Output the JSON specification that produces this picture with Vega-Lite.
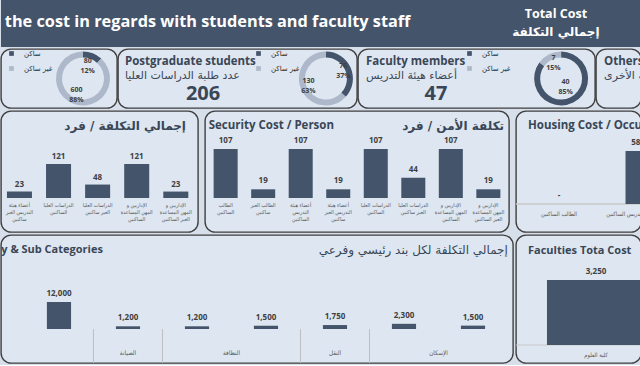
{
  "$schema": "https://vega.github.io/schema/vega-lite/v6.json",
  "padding": 0,
  "background": "#d7dfea",
  "spacing": 1,
  "resolve": {"scale": {"color": "independent"}, "legend": {"color": "independent"}},
  "config": {
    "view": {"stroke": "#3f3f3f", "strokeWidth": 1.4, "cornerRadius": 10, "fill": "#dde6f1"},
    "axis": {"grid": false}
  },
  "vconcat": [
    {
      "width": 640,
      "height": 47,
      "view": {"fill": "#44546a", "stroke": null, "cornerRadius": 0},
      "layer": [
        {
          "data": {"values": [{"t": "the cost in regards with students and faculty staff"}]},
          "mark": {"type": "text", "align": "left", "baseline": "middle", "font": "Open Sans", "fontSize": 16.3, "fontWeight": "bold", "color": "#ffffff"},
          "encoding": {
            "text": {"field": "t"},
            "x": {"datum": 0.006, "type": "quantitative", "scale": {"domain": [0, 1]}, "axis": null},
            "y": {"datum": 0.47, "type": "quantitative", "scale": {"domain": [0, 1], "reverse": true}, "axis": null}
          }
        },
        {
          "data": {"values": [{"t": "Total Cost"}]},
          "mark": {"type": "text", "align": "center", "baseline": "middle", "font": "Open Sans", "fontSize": 12.5, "fontWeight": "bold", "color": "#ffffff"},
          "encoding": {
            "text": {"field": "t"},
            "x": {"datum": 0.867, "type": "quantitative", "scale": {"domain": [0, 1]}, "axis": null},
            "y": {"datum": 0.3, "type": "quantitative", "scale": {"domain": [0, 1], "reverse": true}, "axis": null}
          }
        },
        {
          "data": {"values": [{"t": "إجمالي التكلفة"}]},
          "mark": {"type": "text", "align": "center", "baseline": "middle", "font": "DejaVu Sans", "fontSize": 12, "fontWeight": "bold", "color": "#ffffff"},
          "encoding": {
            "text": {"field": "t"},
            "x": {"datum": 0.867, "type": "quantitative", "scale": {"domain": [0, 1]}, "axis": null},
            "y": {"datum": 0.68, "type": "quantitative", "scale": {"domain": [0, 1], "reverse": true}, "axis": null}
          }
        }
      ]
    },
    {
      "resolve": {"scale": {"color": "independent"}, "legend": {"color": "independent"}},
      "hconcat": [
        {
          "width": 116,
          "height": 59,
          "data": {"values": [{"status": "ساكن", "n": 80, "pct": "12%"}, {"status": "غير ساكن", "n": 600, "pct": "88%"}]},
          "layer": [
            {
              "mark": {"type": "arc", "outerRadius": 27, "innerRadius": 21},
              "encoding": {
                "theta": {"field": "n", "type": "quantitative", "stack": true},
                "order": {"field": "status", "sort": "ascending"},
                "color": {"field": "status", "type": "nominal", "scale": {"domain": ["ساكن", "غير ساكن"], "range": ["#44546a", "#adb9ca"]},
                  "legend": {"orient": "none", "legendX": 7, "legendY": 1, "title": null, "symbolType": "square", "symbolSize": 22, "symbolStrokeWidth": 0, "labelFont": "DejaVu Sans", "labelFontSize": 7, "labelColor": "#262626", "rowPadding": 7, "labelOffset": 9, "padding": 0}},
                "x": {"datum": 0.707, "type": "quantitative", "scale": {"domain": [0, 1]}, "axis": null}
              }
            },
            {
              "mark": {"type": "text", "radius": {"expr": "datum.status === 'ساكن' ? 13 : 18"}, "dy": -5, "font": "Open Sans", "fontSize": 7, "fontWeight": "bold", "color": "#404040"},
              "encoding": {
                "theta": {"field": "n", "type": "quantitative", "stack": true},
                "order": {"field": "status", "sort": "ascending"},
                "detail": {"field": "status"},
                "text": {"field": "n"},
                "x": {"datum": 0.707, "type": "quantitative", "scale": {"domain": [0, 1]}, "axis": null}
              }
            },
            {
              "mark": {"type": "text", "radius": {"expr": "datum.status === 'ساكن' ? 13 : 18"}, "dy": 5, "font": "Open Sans", "fontSize": 7, "fontWeight": "bold", "color": "#404040"},
              "encoding": {
                "theta": {"field": "n", "type": "quantitative", "stack": true},
                "order": {"field": "status", "sort": "ascending"},
                "detail": {"field": "status"},
                "text": {"field": "pct"},
                "x": {"datum": 0.707, "type": "quantitative", "scale": {"domain": [0, 1]}, "axis": null}
              }
            }
          ]
        },
        {
          "width": 239,
          "height": 59,
          "layer": [
            {
              "data": {"values": [{"status": "ساكن", "n": 76, "pct": "37%"}, {"status": "غير ساكن", "n": 130, "pct": "63%"}]},
              "layer": [
                {
                  "mark": {"type": "arc", "outerRadius": 27, "innerRadius": 21},
                  "encoding": {
                    "theta": {"field": "n", "type": "quantitative", "stack": true},
                    "order": {"field": "status", "sort": "ascending"},
                    "color": {"field": "status", "type": "nominal", "scale": {"domain": ["ساكن", "غير ساكن"], "range": ["#44546a", "#adb9ca"]},
                      "legend": {"orient": "none", "legendX": 137, "legendY": 1, "title": null, "symbolType": "square", "symbolSize": 22, "symbolStrokeWidth": 0, "labelFont": "DejaVu Sans", "labelFontSize": 7, "labelColor": "#262626", "rowPadding": 7, "labelOffset": 9, "padding": 0}},
                    "x": {"datum": 0.87, "type": "quantitative", "scale": {"domain": [0, 1]}, "axis": null}
                  }
                },
                {
                  "mark": {"type": "text", "radius": 19, "dy": -5, "font": "Open Sans", "fontSize": 7, "fontWeight": "bold", "color": "#404040"},
                  "encoding": {
                    "theta": {"field": "n", "type": "quantitative", "stack": true},
                    "order": {"field": "status", "sort": "ascending"},
                    "detail": {"field": "status"},
                    "text": {"field": "n"},
                    "x": {"datum": 0.87, "type": "quantitative", "scale": {"domain": [0, 1]}, "axis": null}
                  }
                },
                {
                  "mark": {"type": "text", "radius": 19, "dy": 5, "font": "Open Sans", "fontSize": 7, "fontWeight": "bold", "color": "#404040"},
                  "encoding": {
                    "theta": {"field": "n", "type": "quantitative", "stack": true},
                    "order": {"field": "status", "sort": "ascending"},
                    "detail": {"field": "status"},
                    "text": {"field": "pct"},
                    "x": {"datum": 0.87, "type": "quantitative", "scale": {"domain": [0, 1]}, "axis": null}
                  }
                }
              ]
            },
            {
              "data": {"values": [{"t": "Postgraduate students"}]},
              "mark": {"type": "text", "align": "left", "baseline": "middle", "font": "Open Sans", "fontSize": 11.5, "fontWeight": "bold", "color": "#3a4656"},
              "encoding": {
                "text": {"field": "t"},
                "x": {"datum": 0.029, "type": "quantitative", "scale": {"domain": [0, 1]}, "axis": null},
                "y": {"datum": 0.22, "type": "quantitative", "scale": {"domain": [0, 1], "reverse": true}, "axis": null}
              }
            },
            {
              "data": {"values": [{"t": "عدد طلبة الدراسات العليا"}]},
              "mark": {"type": "text", "align": "left", "baseline": "middle", "font": "DejaVu Sans", "fontSize": 11, "color": "#3a4656"},
              "encoding": {
                "text": {"field": "t"},
                "x": {"datum": 0.029, "type": "quantitative", "scale": {"domain": [0, 1]}, "axis": null},
                "y": {"datum": 0.46, "type": "quantitative", "scale": {"domain": [0, 1], "reverse": true}, "axis": null}
              }
            },
            {
              "data": {"values": [{"t": "206"}]},
              "mark": {"type": "text", "align": "center", "baseline": "middle", "font": "Open Sans", "fontSize": 20, "fontWeight": "bold", "color": "#3a4656"},
              "encoding": {
                "text": {"field": "t"},
                "x": {"datum": 0.356, "type": "quantitative", "scale": {"domain": [0, 1]}, "axis": null},
                "y": {"datum": 0.76, "type": "quantitative", "scale": {"domain": [0, 1], "reverse": true}, "axis": null}
              }
            }
          ]
        },
        {
          "width": 237,
          "height": 59,
          "layer": [
            {
              "data": {"values": [{"status": "ساكن", "n": 40, "pct": "85%"}, {"status": "غير ساكن", "n": 7, "pct": "15%"}]},
              "layer": [
                {
                  "mark": {"type": "arc", "outerRadius": 27, "innerRadius": 21},
                  "encoding": {
                    "theta": {"field": "n", "type": "quantitative", "stack": true},
                    "order": {"field": "status", "sort": "ascending"},
                    "color": {"field": "status", "type": "nominal", "scale": {"domain": ["ساكن", "غير ساكن"], "range": ["#44546a", "#adb9ca"]},
                      "legend": {"orient": "none", "legendX": 108, "legendY": 1, "title": null, "symbolType": "square", "symbolSize": 22, "symbolStrokeWidth": 0, "labelFont": "DejaVu Sans", "labelFontSize": 7, "labelColor": "#262626", "rowPadding": 7, "labelOffset": 9, "padding": 0}},
                    "x": {"datum": 0.857, "type": "quantitative", "scale": {"domain": [0, 1]}, "axis": null}
                  }
                },
                {
                  "mark": {"type": "text", "radius": {"expr": "datum.status === 'ساكن' ? 10 : 17"}, "dy": -5, "font": "Open Sans", "fontSize": 7, "fontWeight": "bold", "color": "#404040"},
                  "encoding": {
                    "theta": {"field": "n", "type": "quantitative", "stack": true},
                    "order": {"field": "status", "sort": "ascending"},
                    "detail": {"field": "status"},
                    "text": {"field": "n"},
                    "x": {"datum": 0.857, "type": "quantitative", "scale": {"domain": [0, 1]}, "axis": null}
                  }
                },
                {
                  "mark": {"type": "text", "radius": {"expr": "datum.status === 'ساكن' ? 10 : 17"}, "dy": 5, "font": "Open Sans", "fontSize": 7, "fontWeight": "bold", "color": "#404040"},
                  "encoding": {
                    "theta": {"field": "n", "type": "quantitative", "stack": true},
                    "order": {"field": "status", "sort": "ascending"},
                    "detail": {"field": "status"},
                    "text": {"field": "pct"},
                    "x": {"datum": 0.857, "type": "quantitative", "scale": {"domain": [0, 1]}, "axis": null}
                  }
                }
              ]
            },
            {
              "data": {"values": [{"t": "Faculty members"}]},
              "mark": {"type": "text", "align": "left", "baseline": "middle", "font": "Open Sans", "fontSize": 11.5, "fontWeight": "bold", "color": "#3a4656"},
              "encoding": {
                "text": {"field": "t"},
                "x": {"datum": 0.034, "type": "quantitative", "scale": {"domain": [0, 1]}, "axis": null},
                "y": {"datum": 0.22, "type": "quantitative", "scale": {"domain": [0, 1], "reverse": true}, "axis": null}
              }
            },
            {
              "data": {"values": [{"t": "أعضاء هيئة التدريس"}]},
              "mark": {"type": "text", "align": "left", "baseline": "middle", "font": "DejaVu Sans", "fontSize": 11, "color": "#3a4656"},
              "encoding": {
                "text": {"field": "t"},
                "x": {"datum": 0.034, "type": "quantitative", "scale": {"domain": [0, 1]}, "axis": null},
                "y": {"datum": 0.46, "type": "quantitative", "scale": {"domain": [0, 1], "reverse": true}, "axis": null}
              }
            },
            {
              "data": {"values": [{"t": "47"}]},
              "mark": {"type": "text", "align": "center", "baseline": "middle", "font": "Open Sans", "fontSize": 20, "fontWeight": "bold", "color": "#3a4656"},
              "encoding": {
                "text": {"field": "t"},
                "x": {"datum": 0.329, "type": "quantitative", "scale": {"domain": [0, 1]}, "axis": null},
                "y": {"datum": 0.76, "type": "quantitative", "scale": {"domain": [0, 1], "reverse": true}, "axis": null}
              }
            }
          ]
        },
        {
          "width": 45,
          "height": 59,
          "layer": [
            {
              "data": {"values": [{"t": "Others"}]},
              "mark": {"type": "text", "align": "left", "baseline": "middle", "font": "Open Sans", "fontSize": 11.5, "fontWeight": "bold", "color": "#3a4656", "clip": true},
              "encoding": {
                "text": {"field": "t"},
                "x": {"datum": 0.18, "type": "quantitative", "scale": {"domain": [0, 1]}, "axis": null},
                "y": {"datum": 0.22, "type": "quantitative", "scale": {"domain": [0, 1], "reverse": true}, "axis": null}
              }
            },
            {
              "data": {"values": [{"t": "التكاليف الأخرى"}]},
              "mark": {"type": "text", "align": "left", "baseline": "middle", "font": "DejaVu Sans", "fontSize": 11, "color": "#3a4656", "clip": true},
              "encoding": {
                "text": {"field": "t"},
                "x": {"datum": 0.18, "type": "quantitative", "scale": {"domain": [0, 1]}, "axis": null},
                "y": {"datum": 0.46, "type": "quantitative", "scale": {"domain": [0, 1], "reverse": true}, "axis": null}
              }
            }
          ]
        }
      ],
      "spacing": 1,
      "bounds": "flush"
    },
    {
      "hconcat": [
        {
          "width": 197,
          "height": 121,
          "resolve": {"scale": {"x": "independent", "y": "independent"}},
          "layer": [
            {
              "data": {"values": [
                {"c": "أعضاء هيئة\nالتدريس الغير\nساكنين", "v": 23},
                {"c": "الدراسات العليا\nالساكنين", "v": 121},
                {"c": "الدراسات العليا\nالغير ساكنين", "v": 48},
                {"c": "الإداريين و\nالمهن المساعدة\nالساكنين", "v": 121},
                {"c": "الإداريين و\nالمهن المساعدة\nالغير الساكنين", "v": 23}
              ]},
              "encoding": {
                "x": {"field": "c", "type": "nominal", "sort": null, "scale": {"paddingInner": 0.36, "paddingOuter": 0.2, "align": 0.38},
                  "axis": {"orient": "bottom", "offset": -34, "title": null, "domain": false, "ticks": false, "labelAngle": 0, "labelFont": "DejaVu Sans Condensed", "labelFontSize": 5.3, "labelColor": "#595959", "labelPadding": 4, "labelLineHeight": 7, "labelBaseline": "top", "labelLimit": 0, "labelOverlap": false, "labelExpr": "split(datum.label, '\\n')"}},
                "y": {"field": "v", "type": "quantitative", "scale": {"domain": [-121, 310], "nice": false}, "axis": null}
              },
              "layer": [
                {"mark": {"type": "bar", "color": "#44546a"}},
                {"mark": {"type": "text", "baseline": "bottom", "dy": -3, "font": "Open Sans", "fontWeight": "bold", "fontSize": 8, "color": "#404040"}, "encoding": {"text": {"field": "v"}}}
              ]
            },
            {
              "data": {"values": [{"t": "إجمالي التكلفة / فرد"}]},
              "mark": {"type": "text", "align": "right", "baseline": "middle", "font": "DejaVu Sans", "fontSize": 12, "fontWeight": "bold", "color": "#3a4656"},
              "encoding": {
                "text": {"field": "t"},
                "x": {"datum": 0.939, "type": "quantitative", "scale": {"domain": [0, 1]}, "axis": null},
                "y": {"datum": 0.124, "type": "quantitative", "scale": {"domain": [0, 1], "reverse": true}, "axis": null}
              }
            }
          ]
        },
        {
          "width": 304,
          "height": 121,
          "resolve": {"scale": {"x": "independent", "y": "independent"}},
          "layer": [
            {
              "data": {"values": [
                {"c": "الطالب\nالساكنين", "v": 107},
                {"c": "الطالب الغير\nساكنين", "v": 19},
                {"c": "أعضاء هيئة\nالتدريس\nالساكنين", "v": 107},
                {"c": "أعضاء هيئة\nالتدريس الغير\nساكنين", "v": 19},
                {"c": "الدراسات العليا\nالساكنين", "v": 107},
                {"c": "الدراسات العليا\nالغير ساكنين", "v": 44},
                {"c": "الإداريين و\nالمهن المساعدة\nالساكنين", "v": 107},
                {"c": "الإداريين و\nالمهن المساعدة\nالغير الساكنين", "v": 19}
              ]},
              "encoding": {
                "x": {"field": "c", "type": "nominal", "sort": null, "scale": {"paddingInner": 0.36, "paddingOuter": 0.23},
                  "axis": {"orient": "bottom", "offset": -34, "title": null, "domain": false, "ticks": false, "labelAngle": 0, "labelFont": "DejaVu Sans Condensed", "labelFontSize": 5.3, "labelColor": "#595959", "labelPadding": 4, "labelLineHeight": 7, "labelBaseline": "top", "labelLimit": 0, "labelOverlap": false, "labelExpr": "split(datum.label, '\\n')"}},
                "y": {"field": "v", "type": "quantitative", "scale": {"domain": [-74.2, 190], "nice": false}, "axis": null}
              },
              "layer": [
                {"mark": {"type": "bar", "color": "#44546a"}},
                {"mark": {"type": "text", "baseline": "bottom", "dy": -4, "font": "Open Sans", "fontWeight": "bold", "fontSize": 8, "color": "#404040"}, "encoding": {"text": {"field": "v"}}}
              ]
            },
            {
              "data": {"values": [{"t": "Security Cost / Person"}]},
              "mark": {"type": "text", "align": "left", "baseline": "middle", "font": "Open Sans", "fontSize": 11.5, "fontWeight": "bold", "color": "#3a4656"},
              "encoding": {
                "text": {"field": "t"},
                "x": {"datum": 0.012, "type": "quantitative", "scale": {"domain": [0, 1]}, "axis": null},
                "y": {"datum": 0.124, "type": "quantitative", "scale": {"domain": [0, 1], "reverse": true}, "axis": null}
              }
            },
            {
              "data": {"values": [{"t": "تكلفة الأمن / فرد"}]},
              "mark": {"type": "text", "align": "right", "baseline": "middle", "font": "DejaVu Sans", "fontSize": 12, "fontWeight": "bold", "color": "#3a4656"},
              "encoding": {
                "text": {"field": "t"},
                "x": {"datum": 0.984, "type": "quantitative", "scale": {"domain": [0, 1]}, "axis": null},
                "y": {"datum": 0.124, "type": "quantitative", "scale": {"domain": [0, 1], "reverse": true}, "axis": null}
              }
            }
          ]
        },
        {
          "width": 125,
          "height": 121,
          "resolve": {"scale": {"x": "independent", "y": "independent"}},
          "layer": [
            {
              "data": {"values": [
                {"c": "الطالب الساكنين", "v": 0},
                {"c": "أعضاء هيئة التدريس الساكنين", "v": 580}
              ]},
              "layer": [
                {
                  "mark": {"type": "rule", "color": "#c9c9c9", "strokeWidth": 1},
                  "encoding": {"y": {"datum": 0, "type": "quantitative", "scale": {"domain": [-306, 1017], "nice": false}, "axis": null}}
                },
                {
                  "mark": {"type": "bar", "color": "#44546a", "clip": true},
                  "encoding": {
                    "x": {"field": "c", "type": "nominal", "sort": null, "scale": {"range": [0, 165], "paddingInner": 0.684, "paddingOuter": 0.386}, "axis": null},
                    "y": {"field": "v", "type": "quantitative", "scale": {"domain": [-306, 1017], "nice": false}, "axis": null}
                  }
                },
                {
                  "mark": {"type": "text", "baseline": "bottom", "dy": -4, "font": "Open Sans", "fontWeight": "bold", "fontSize": 8, "color": "#404040", "clip": true},
                  "encoding": {
                    "x": {"field": "c", "type": "nominal", "sort": null, "scale": {"range": [0, 165], "paddingInner": 0.684, "paddingOuter": 0.386}, "axis": null},
                    "y": {"field": "v", "type": "quantitative", "scale": {"domain": [-306, 1017], "nice": false}, "axis": null},
                    "text": {"condition": {"test": "datum.v === 0", "value": "-"}, "field": "v", "type": "quantitative", "format": ","}
                  }
                },
                {
                  "mark": {"type": "text", "baseline": "middle", "dy": 10, "font": "DejaVu Sans Condensed", "fontSize": 5.8, "color": "#595959", "clip": true},
                  "encoding": {
                    "x": {"field": "c", "type": "nominal", "sort": null, "scale": {"range": [0, 165], "paddingInner": 0.684, "paddingOuter": 0.386}, "axis": null},
                    "y": {"datum": 0, "type": "quantitative", "scale": {"domain": [-306, 1017], "nice": false}, "axis": null},
                    "text": {"field": "c"}
                  }
                }
              ]
            },
            {
              "data": {"values": [{"t": "Housing Cost / Occupancy"}]},
              "mark": {"type": "text", "align": "left", "baseline": "middle", "font": "Open Sans", "fontSize": 11.5, "fontWeight": "bold", "color": "#3a4656", "clip": true},
              "encoding": {
                "text": {"field": "t"},
                "x": {"datum": 0.096, "type": "quantitative", "scale": {"domain": [0, 1]}, "axis": null},
                "y": {"datum": 0.124, "type": "quantitative", "scale": {"domain": [0, 1], "reverse": true}, "axis": null}
              }
            }
          ]
        }
      ],
      "spacing": 7,
      "bounds": "flush"
    },
    {
      "hconcat": [
        {
          "width": 512,
          "height": 128,
          "resolve": {"scale": {"x": "independent", "y": "independent"}},
          "layer": [
            {
              "data": {"values": [
                {"g": "الأمن", "c": "تكاليف الوردية الثالثة", "v": 12000},
                {"g": "الصيانة", "c": "تكلفة قطع الغيار", "v": 1200},
                {"g": "النظافة", "c": "تكلفة القوى العاملة", "v": 1200},
                {"g": "النظافة", "c": "تكلفة مواد النظافة", "v": 1500},
                {"g": "النقل", "c": "تكاليف الوقود", "v": 1750},
                {"g": "الإسكان", "c": "تكاليف قطع الغيار", "v": 2300},
                {"g": "الإسكان", "c": "تكاليف القوى العاملة", "v": 1500}
              ]},
              "layer": [
                {
                  "mark": {"type": "bar", "color": "#44546a", "width": {"band": 0.35}},
                  "encoding": {
                    "x": {"field": "c", "type": "nominal", "sort": null,
                      "scale": {"domain": ["تكاليف الوردية الثالثة", "تكلفة قطع الغيار", "تكلفة القوى العاملة", "تكلفة مواد النظافة", "تكاليف الوقود", "تكاليف قطع الغيار", "تكاليف القوى العاملة"], "paddingInner": 0, "paddingOuter": 0.21, "align": 0.81},
                      "axis": {"orient": "bottom", "offset": -34, "title": null, "domain": true, "domainColor": "#bfbfbf", "ticks": false, "labelAngle": 0, "labelFont": "DejaVu Sans Condensed", "labelFontSize": 6.3, "labelColor": "#595959", "labelPadding": 5, "labelBaseline": "top", "labelLimit": 0, "labelOverlap": false}},
                    "y": {"field": "v", "type": "quantitative", "scale": {"domain": [-15111, 41778], "nice": false}, "axis": null}
                  }
                },
                {
                  "mark": {"type": "text", "baseline": "bottom", "dy": -4, "font": "Open Sans", "fontWeight": "bold", "fontSize": 8, "color": "#404040"},
                  "encoding": {
                    "x": {"field": "c", "type": "nominal", "sort": null,
                      "scale": {"domain": ["تكاليف الوردية الثالثة", "تكلفة قطع الغيار", "تكلفة القوى العاملة", "تكلفة مواد النظافة", "تكاليف الوقود", "تكاليف قطع الغيار", "تكاليف القوى العاملة"], "paddingInner": 0, "paddingOuter": 0.21, "align": 0.81}, "axis": null},
                    "y": {"field": "v", "type": "quantitative", "scale": {"domain": [-15111, 41778], "nice": false}, "axis": null},
                    "text": {"field": "v", "type": "quantitative", "format": ","}
                  }
                },
                {
                  "transform": [{"filter": {"field": "c", "oneOf": ["تكلفة قطع الغيار", "تكلفة القوى العاملة", "تكاليف الوقود", "تكاليف قطع الغيار"]}}],
                  "mark": {"type": "rule", "color": "#bfbfbf", "strokeWidth": 1},
                  "encoding": {
                    "x": {"field": "c", "type": "nominal", "sort": null, "bandPosition": 0,
                      "scale": {"domain": ["تكاليف الوردية الثالثة", "تكلفة قطع الغيار", "تكلفة القوى العاملة", "تكلفة مواد النظافة", "تكاليف الوقود", "تكاليف قطع الغيار", "تكاليف القوى العاملة"], "paddingInner": 0, "paddingOuter": 0.21, "align": 0.81}, "axis": null},
                    "y": {"datum": 0, "type": "quantitative", "scale": {"domain": [-15111, 41778], "nice": false}, "axis": null},
                    "y2": {"datum": -15111}
                  }
                },
                {
                  "transform": [{"filter": {"field": "c", "oneOf": ["تكلفة قطع الغيار", "تكاليف الوقود"]}}],
                  "mark": {"type": "text", "baseline": "middle", "dy": 24, "font": "DejaVu Sans Condensed", "fontSize": 6.3, "color": "#595959"},
                  "encoding": {
                    "x": {"field": "c", "type": "nominal", "sort": null, "bandPosition": 0.5,
                      "scale": {"domain": ["تكاليف الوردية الثالثة", "تكلفة قطع الغيار", "تكلفة القوى العاملة", "تكلفة مواد النظافة", "تكاليف الوقود", "تكاليف قطع الغيار", "تكاليف القوى العاملة"], "paddingInner": 0, "paddingOuter": 0.21, "align": 0.81}, "axis": null},
                    "y": {"datum": 0, "type": "quantitative", "scale": {"domain": [-15111, 41778], "nice": false}, "axis": null},
                    "text": {"field": "g"}
                  }
                },
                {
                  "transform": [{"filter": {"field": "c", "oneOf": ["تكلفة مواد النظافة", "تكاليف القوى العاملة"]}}],
                  "mark": {"type": "text", "baseline": "middle", "dy": 24, "font": "DejaVu Sans Condensed", "fontSize": 6.3, "color": "#595959"},
                  "encoding": {
                    "x": {"field": "c", "type": "nominal", "sort": null, "bandPosition": 0,
                      "scale": {"domain": ["تكاليف الوردية الثالثة", "تكلفة قطع الغيار", "تكلفة القوى العاملة", "تكلفة مواد النظافة", "تكاليف الوقود", "تكاليف قطع الغيار", "تكاليف القوى العاملة"], "paddingInner": 0, "paddingOuter": 0.21, "align": 0.81}, "axis": null},
                    "y": {"datum": 0, "type": "quantitative", "scale": {"domain": [-15111, 41778], "nice": false}, "axis": null},
                    "text": {"field": "g"}
                  }
                }
              ]
            },
            {
              "data": {"values": [{"t": "Total Cost by Main Category & Sub Categories"}]},
              "mark": {"type": "text", "align": "right", "baseline": "middle", "font": "Open Sans", "fontSize": 11, "fontWeight": "bold", "color": "#3a4656", "clip": true},
              "encoding": {
                "text": {"field": "t"},
                "x": {"datum": 0.199, "type": "quantitative", "scale": {"domain": [0, 1]}, "axis": null},
                "y": {"datum": 0.115, "type": "quantitative", "scale": {"domain": [0, 1], "reverse": true}, "axis": null}
              }
            },
            {
              "data": {"values": [{"t": "إجمالي التكلفة لكل بند رئيسي وفرعي"}]},
              "mark": {"type": "text", "align": "right", "baseline": "middle", "font": "DejaVu Sans", "fontSize": 12, "color": "#3a4656"},
              "encoding": {
                "text": {"field": "t"},
                "x": {"datum": 0.99, "type": "quantitative", "scale": {"domain": [0, 1]}, "axis": null},
                "y": {"datum": 0.115, "type": "quantitative", "scale": {"domain": [0, 1], "reverse": true}, "axis": null}
              }
            }
          ]
        },
        {
          "width": 125,
          "height": 128,
          "resolve": {"scale": {"x": "independent", "y": "independent"}},
          "layer": [
            {
              "data": {"values": [{"c": "كلية العلوم", "v": 3250}]},
              "layer": [
                {
                  "mark": {"type": "rule", "color": "#c9c9c9", "strokeWidth": 1},
                  "encoding": {"y": {"datum": 0, "type": "quantitative", "scale": {"domain": [-900, 5500], "nice": false}, "axis": null}}
                },
                {
                  "mark": {"type": "bar", "color": "#44546a", "clip": true},
                  "encoding": {
                    "x": {"field": "c", "type": "nominal", "scale": {"range": [0, 160], "paddingInner": 0, "paddingOuter": 0.316}, "axis": null},
                    "y": {"field": "v", "type": "quantitative", "scale": {"domain": [-900, 5500], "nice": false}, "axis": null}
                  }
                },
                {
                  "mark": {"type": "text", "baseline": "bottom", "dy": -4, "font": "Open Sans", "fontWeight": "bold", "fontSize": 8, "color": "#404040", "clip": true},
                  "encoding": {
                    "x": {"field": "c", "type": "nominal", "scale": {"range": [0, 160], "paddingInner": 0, "paddingOuter": 0.316}, "axis": null},
                    "y": {"field": "v", "type": "quantitative", "scale": {"domain": [-900, 5500], "nice": false}, "axis": null},
                    "text": {"field": "v", "type": "quantitative", "format": ","}
                  }
                },
                {
                  "mark": {"type": "text", "baseline": "middle", "dy": 10, "font": "DejaVu Sans Condensed", "fontSize": 5.8, "color": "#595959", "clip": true},
                  "encoding": {
                    "x": {"field": "c", "type": "nominal", "scale": {"range": [0, 160], "paddingInner": 0, "paddingOuter": 0.316}, "axis": null},
                    "y": {"datum": 0, "type": "quantitative", "scale": {"domain": [-900, 5500], "nice": false}, "axis": null},
                    "text": {"field": "c"}
                  }
                }
              ]
            },
            {
              "data": {"values": [{"t": "Faculties Tota Cost"}]},
              "mark": {"type": "text", "align": "left", "baseline": "middle", "font": "Open Sans", "fontSize": 11, "fontWeight": "bold", "color": "#3a4656", "clip": true},
              "encoding": {
                "text": {"field": "t"},
                "x": {"datum": 0.096, "type": "quantitative", "scale": {"domain": [0, 1]}, "axis": null},
                "y": {"datum": 0.123, "type": "quantitative", "scale": {"domain": [0, 1], "reverse": true}, "axis": null}
              }
            }
          ]
        }
      ],
      "spacing": 3,
      "bounds": "flush"
    }
  ]
}
